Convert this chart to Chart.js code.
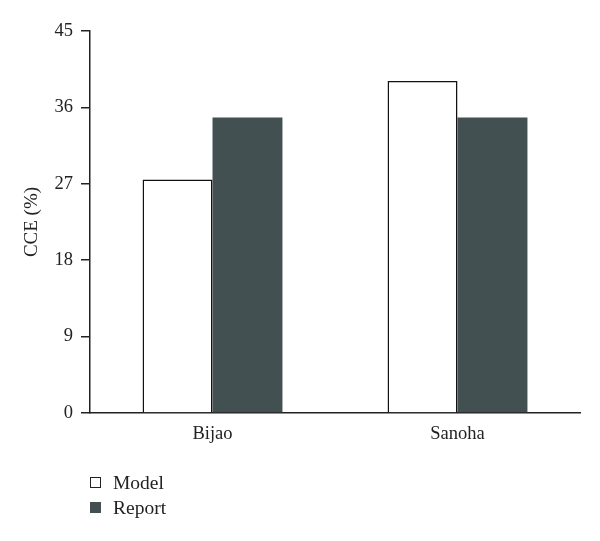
<!DOCTYPE html>
<html>
<head>
<meta charset="utf-8">
<script src="https://cdn.jsdelivr.net/npm/chart.js@4"></script>
<style>
html,body{margin:0;padding:0;background:#fff;}
#wrap{position:relative;width:600px;height:541px;}
#legend{position:absolute;left:90px;top:470px;font-family:"Liberation Serif","Times New Roman",serif;font-size:19.5px;color:#222;}
.item{display:flex;align-items:center;height:25px;}
.sw{width:11px;height:11px;margin-right:12px;box-sizing:border-box;}
</style>
</head>
<body>
<div id="wrap">
<canvas id="c" width="600" height="541"></canvas>
<div id="legend"></div>
</div>
<script>
const categories = ["Bijao", "Sanoha"];
const modelValues = [27.5, 39.1];
const reportValues = [34.8, 34.8];
const yTicks = [0, 9, 18, 27, 36, 45];
const seriesNames = ["Model", "Report"];
const reportColor = "#435052";

const FONT = "'Liberation Serif','Times New Roman',serif";

const chart = new Chart(document.getElementById('c'), {
  type: 'bar',
  data: {
    labels: categories,
    datasets: [
      {label: seriesNames[0], data: modelValues, backgroundColor: '#ffffff', borderColor: '#111', borderWidth: 1.5, borderSkipped: 'bottom'},
      {label: seriesNames[1], data: reportValues, backgroundColor: reportColor, borderColor: reportColor, borderWidth: 0}
    ]
  },
  options: {
    responsive: false,
    animation: false,
    layout: {padding: {top: 31, right: 20, left: 0, bottom: 0}},
    plugins: {legend: {display: false}, tooltip: {enabled: false}},
    datasets: {bar: {categoryPercentage: 0.571, barPercentage: 1}},
    scales: {
      x: {
        grid: {display: false},
        border: {display: true, color: '#222', width: 1.5},
        ticks: {color: '#222', font: {family: FONT, size: 18.5}, padding: 2},
        afterFit: s => { s.height = 128; }
      },
      y: {
        min: 0, max: 45,
        afterBuildTicks: s => { s.ticks = yTicks.map(v => ({value: v})); },
        grid: {display: true, drawOnChartArea: false, drawTicks: true, tickLength: 9, color: '#222', lineWidth: 1.5},
        border: {display: true, color: '#222', width: 1.5},
        ticks: {color: '#222', font: {family: FONT, size: 18.5}, padding: 8},
        title: {display: true, text: 'CCE (%)', color: '#222', font: {family: FONT, size: 19}, padding: {top: 21, bottom: 0}},
        afterFit: s => { s.width = 90; }
      }
    }
  }
});

const lg = document.getElementById('legend');
seriesNames.forEach((n, i) => {
  const d = document.createElement('div'); d.className = 'item';
  const sw = document.createElement('span'); sw.className = 'sw';
  if (i === 0) { sw.style.border = '1.5px solid #222'; sw.style.background = '#fff'; }
  else { sw.style.background = reportColor; }
  const t = document.createElement('span'); t.textContent = n;
  d.appendChild(sw); d.appendChild(t); lg.appendChild(d);
});
</script>
</body>
</html>
